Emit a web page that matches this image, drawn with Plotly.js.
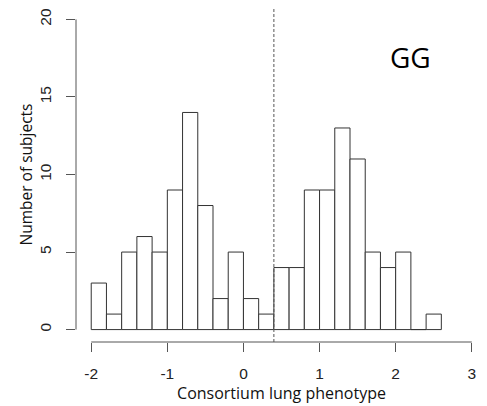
<!DOCTYPE html>
<html>
<head>
<meta charset="utf-8">
<script src="https://cdn.plot.ly/plotly-3.0.1.min.js"></script>
<style>html,body{margin:0;padding:0;background:#fff;}#chart{width:487px;height:406px;}</style>
</head>
<body>
<div id="chart"></div>
<script>
// Histogram bins (left edges, width 0.2) and counts
const binStarts = [-2.0,-1.8,-1.6,-1.4,-1.2,-1.0,-0.8,-0.6,-0.4,-0.2,0.0,0.2,0.4,0.6,0.8,1.0,1.2,1.4,1.6,1.8,2.0,2.2,2.4];
const counts    = [3,1,5,6,5,9,14,8,2,5,2,1,4,4,9,9,13,11,5,4,5,0,1];
const binWidth = 0.2;
const xTicks = [-2,-1,0,1,2,3];
const yTicks = [0,5,10,15,20];
const cutoff = 0.4;
const groupLabel = "GG";
const xTitle = "Consortium lung phenotype";
const yTitle = "Number of subjects";

const trace = {
  type: 'bar',
  x: binStarts,
  y: counts,
  width: binStarts.map(() => binWidth),
  offset: 0,
  marker: {color: '#ffffff', line: {color: '#333333', width: 1}},
  hoverinfo: 'x+y'
};

const axisColor = '#555555';
const tickFont = {family: 'Liberation Sans, Arial, sans-serif', size: 15.5, color: '#222'};
const titleFont = {family: 'Open Sans, Noto Sans, sans-serif', size: 16, color: '#111'};
const layout = {
  width: 487, height: 406,
  margin: {l: 75.5, r: 0, t: 6.6, b: 63.6},
  paper_bgcolor: '#fff', plot_bgcolor: '#fff',
  showlegend: false,
  bargap: 0,
  xaxis: {
    range: [-2.2, 3.2], tickvals: xTicks, ticktext: xTicks.map(String),
    showgrid: false, zeroline: false, showline: false,
    ticks: 'outside', ticklen: 9, tickwidth: 1, tickcolor: axisColor,
    ticklabelstandoff: 8,
    tickfont: tickFont,
    title: {text: xTitle, font: titleFont, standoff: 4}
  },
  yaxis: {
    range: [-0.8, 20.8], tickvals: yTicks, ticktext: yTicks.map(String),
    showgrid: false, zeroline: false, showline: false,
    ticks: 'outside', ticklen: 9, tickwidth: 1, tickcolor: axisColor,
    tickangle: -90, ticklabelstandoff: 9,
    tickfont: tickFont,
    title: {text: yTitle, font: Object.assign({}, titleFont, {size: 15.5}), standoff: 0}
  },
  shapes: [
    {type: 'line', xref: 'x', yref: 'paper', x0: xTicks[0], x1: xTicks[xTicks.length-1], y0: 0, y1: 0, line: {color: axisColor, width: 1}},
    {type: 'line', xref: 'paper', yref: 'y', x0: 0, x1: 0, y0: yTicks[0], y1: yTicks[yTicks.length-1], line: {color: axisColor, width: 1}},
    {type: 'line', xref: 'x', yref: 'paper', x0: cutoff, x1: cutoff, y0: 0, y1: 1, line: {color: '#555', width: 1, dash: '3px,2px'}}
  ],
  annotations: [
    {text: groupLabel, xref: 'x', yref: 'y', x: 2.2, y: 17.6, showarrow: false,
     font: {family: 'Open Sans, Noto Sans, sans-serif', size: 28, color: '#000'}}
  ]
};

Plotly.newPlot('chart', [trace], layout, {displayModeBar: false, staticPlot: true});
</script>
</body>
</html>
